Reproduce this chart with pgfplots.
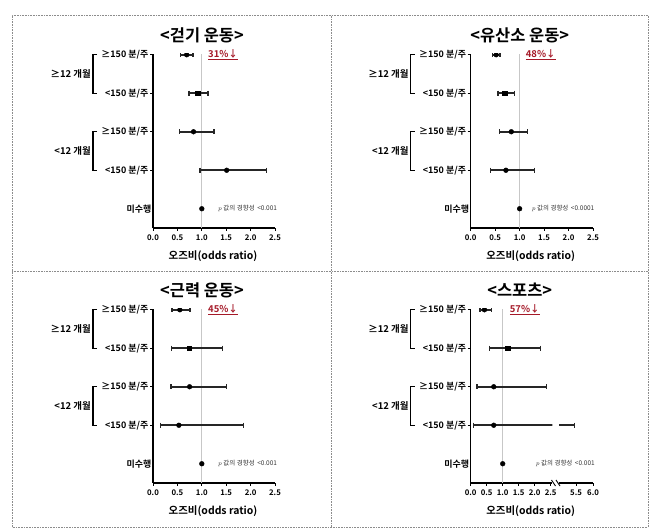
\documentclass[border=0pt]{standalone}
\usepackage{fontspec}
\usepackage{pgfplots}
\usepackage{pgfplotstable}
\pgfplotsset{compat=1.18}
\setmainfont{Noto Sans CJK KR}[BoldFont={Noto Sans CJK KR Bold}]
\definecolor{pctred}{RGB}{165,25,40}

% odds ratio, 95% CI; m: c = circle, s = square
\pgfplotstableread{
row or lo hi m
5 0.69 0.57 0.82 c
4 0.92 0.74 1.13 s
3 0.83 0.55 1.25 c
2 1.51 0.96 2.33 c
}\walk
\pgfplotstableread{
row or lo hi m
5 0.52 0.45 0.60 c
4 0.70 0.56 0.90 s
3 0.83 0.59 1.16 c
2 0.72 0.40 1.31 c
}\aero
\pgfplotstableread{
row or lo hi m
5 0.55 0.39 0.76 c
4 0.74 0.38 1.43 s
3 0.75 0.37 1.51 c
2 0.53 0.16 1.85 c
}\muscle
\pgfplotstableread{
row or lo hi m
5 0.43 0.29 0.65 c
4 1.15 0.59 2.17 s
3 0.72 0.20 2.36 c
2 0.72 0.09 5.45 c
}\sport

\tikzset{refl/.style={black!22, line width=1bp}}
\pgfplotsset{
  fp/.style={
    scale only axis, height=174bp, ymin=0.5, ymax=5.02,
    axis x line*=bottom, axis y line*=left,
    axis line style={line width=1.3bp},
    tick style={line width=1bp, black},
    tick align=outside, major tick length=3bp,
    x tick label style={font=\bfseries\fontsize{7.8}{9}\selectfont,
      /pgf/number format/fixed, /pgf/number format/fixed zerofill,
      /pgf/number format/precision=1},
    /pgf/number format/assume math mode=true,
    clip marker paths=true,
  },
  fpy/.style={
    ytick={2,3,4,5},
    yticklabels={{<150 분/주},{≥150 분/주},{<150 분/주},{≥150 분/주}},
    extra y ticks={1}, extra y tick labels={미수행},
    extra y tick style={major tick length=0pt},
    y tick label style={font=\bfseries\fontsize{9}{10}\selectfont, inner sep=1.5bp},
  },
  ci/.style={scatter, only marks, point meta=explicit symbolic,
    scatter/classes={c={mark=*, black}, s={mark=square*, black}},
    mark size=2.4bp,
    error bars/.cd, x dir=both, x explicit, error mark=none,
    error bar style={line width=1.6bp, black!85}},
  cap/.style={only marks, mark=|, mark size=2.7bp, black!85,
    mark options={line width=1.3bp}},
  /pgfplots/table/cicols/.style={x=or, y=row, meta=m,
    x error plus expr=\thisrow{hi}-\thisrow{or},
    x error minus expr=\thisrow{or}-\thisrow{lo}},
}

\newcommand\forest[1]{%
  \addplot[ci] table[cicols] {#1};
  \addplot[cap] table[x=lo, y=row] {#1};
  \addplot[cap] table[x=hi, y=row] {#1};
}

\newcommand\extras[7]{%
  \node[font=\bfseries\fontsize{16.5}{19}\selectfont] at ({#1+49},{#2+193}) {#3};
  \node[font=\bfseries\fontsize{10.5}{12}\selectfont] at ({#1+60},{#2-28}) {오즈비(odds ratio)};
  \node[anchor=east, inner sep=0pt, font=\bfseries\fontsize{9.5}{12}\selectfont] at ({#1-62},{#2+154}) {≥12 개월};
  \node[anchor=east, inner sep=0pt, font=\bfseries\fontsize{9.5}{12}\selectfont] at ({#1-62},{#2+77}) {<12 개월};
  \draw[line width=1.3bp] ({#1-56},{#2+173.2}) -- ({#1-60},{#2+173.2}) -- ({#1-60},{#2+134.7}) -- ({#1-56},{#2+134.7});
  \draw[line width=1.3bp] ({#1-56},{#2+96.2}) -- ({#1-60},{#2+96.2}) -- ({#1-60},{#2+57.7}) -- ({#1-56},{#2+57.7});
  \node[anchor=west, inner sep=0pt, text=pctred, font=\bfseries\fontsize{9.5}{11}\selectfont] at ({#1+#5},{#2+173.2}) {\underline{#4\%↓}};
  \node[anchor=west, inner sep=0pt, text=black!80, font=\fontsize{6.5}{8}\selectfont] at ({#1+#6},{#2+19.25}) {$p$ 값의 경향성 \,<#7};
}

\begin{document}
\begin{tikzpicture}[x=1bp, y=1bp]
\useasboundingbox (0,0) rectangle (658,532);

% frame
\begin{scope}[black!45, line width=0.6bp, dash pattern=on 0.8bp off 0.8bp]
  \draw (12,5) rectangle (648,517);
  \draw (331,5) -- (331,517);
  \draw (12,261) -- (648,261);
\end{scope}

% walking
\begin{axis}[fp, fpy, at={(153bp,304bp)}, width=122bp, xmin=0, xmax=2.5, xtick={0,0.5,...,2.5}]
  \draw[refl] (axis cs:1,0.5) -- (axis cs:1,5.02);
  \forest{\walk}
  \addplot[only marks, mark=*, mark size=2.4bp] coordinates {(1,1)};
\end{axis}
\extras{153}{304}{<걷기 운동>}{31}{55}{65}{0.001}

% aerobic
\begin{axis}[fp, fpy, at={(470.7bp,304bp)}, width=122.3bp, xmin=0, xmax=2.5, xtick={0,0.5,...,2.5}]
  \draw[refl] (axis cs:1,0.5) -- (axis cs:1,5.02);
  \forest{\aero}
  \addplot[only marks, mark=*, mark size=2.4bp] coordinates {(1,1)};
\end{axis}
\extras{470.7}{304}{<유산소 운동>}{48}{55}{61}{0.0001}

% muscle strengthening
\begin{axis}[fp, fpy, at={(153bp,49bp)}, width=122bp, xmin=0, xmax=2.5, xtick={0,0.5,...,2.5}]
  \draw[refl] (axis cs:1,0.5) -- (axis cs:1,5.02);
  \forest{\muscle}
  \addplot[only marks, mark=*, mark size=2.4bp] coordinates {(1,1)};
\end{axis}
\extras{153}{49}{<근력 운동>}{45}{55}{65}{0.001}

% sports, broken axis
\begin{axis}[fp, fpy, at={(470.7bp,49bp)}, width=81.6bp, xmin=0, xmax=2.55, xtick={0,0.5,...,2.5}]
  \draw[refl] (axis cs:1,0.5) -- (axis cs:1,5.02);
  \forest{\sport}
  \addplot[only marks, mark=*, mark size=2.4bp] coordinates {(1,1)};
\end{axis}
\begin{axis}[fp, at={(559bp,49bp)}, width=34bp, xmin=5, xmax=6, xtick={5.5,6.0},
  axis y line=none, ytick=\empty]
  \forest{\sport}
\end{axis}
\draw[line width=0.9bp] (551.5,52) -- (555.5,46);
\draw[line width=0.9bp] (556,52) -- (560,46);
\extras{470.7}{49}{<스포츠>}{57}{39}{65}{0.001}

\end{tikzpicture}
\end{document}
